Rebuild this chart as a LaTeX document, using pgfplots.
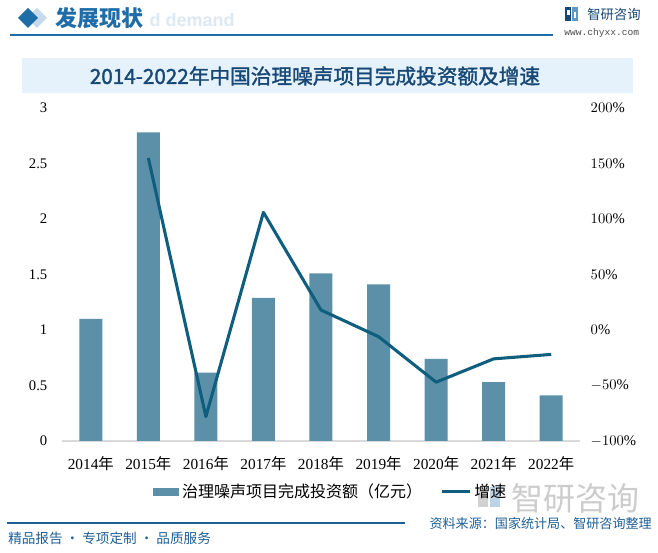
\documentclass[border=0pt]{standalone}
\usepackage{pgfplots}
\pgfplotsset{compat=1.18}
\usepackage{fontspec}
\setmainfont{Liberation Serif}
\newfontfamily\cjk{Noto Sans CJK SC}
\newfontfamily\cjkfb[FakeBold=1.6]{Noto Sans CJK SC}
\newfontfamily\lsans{Liberation Sans}
\newfontfamily\lmono{Liberation Mono}
\definecolor{barc}{RGB}{91,144,168}
\definecolor{linec}{RGB}{16,94,126}
\definecolor{hdr}{RGB}{30,108,168}
\definecolor{band}{RGB}{229,242,251}
\definecolor{ttl}{RGB}{24,72,118}
\definecolor{foot}{RGB}{30,95,150}
\definecolor{axgray}{RGB}{217,217,217}
\pgfplotstableread{
x val
0 1.10
1 2.78
2 0.615
3 1.29
4 1.51
5 1.41
6 0.74
7 0.53
8 0.41
}\invest
\pgfplotstableread{
x g
1 155
2 -78
3 106
4 18
5 -6
6 -47
7 -26
8 -22
}\growth
\begin{document}
\begin{tikzpicture}[x=0.75pt,y=0.75pt]
\useasboundingbox (0,0) rectangle (658,553);
\fill[white] (0,0) rectangle (658,553);
\coordinate (AX) at (62,112);
% header
\fill[hdr!25] (27,535)--(37,545)--(47,535)--(37,525)--cycle;
\fill[hdr] (18,535)--(28,545)--(38,535)--(28,525)--cycle;
\node[anchor=east,text=hdr!15,font=\lsans\bfseries\fontsize{13.5pt}{14pt}\selectfont,inner sep=0] at (235,533) {d demand};
\node[anchor=west,text=hdr,font=\cjk\bfseries\fontsize{16.5pt}{18pt}\selectfont,inner sep=0] at (55,535) {发展现状};
\draw[hdr,line width=1.2pt] (10,518) -- (553,518);
% logo
\fill[ttl] (565,532) rectangle (571,546);
\fill[hdr!70] (572,532) rectangle (578,546);
\fill[white] (567,538) rectangle (570,543);
\fill[white] (574,535) rectangle (576,541);
\node[anchor=west,text=ttl,font=\cjk\fontsize{10pt}{11pt}\selectfont,inner sep=0] at (587,539) {智研咨询};
\node[anchor=west,text=black!70,font=\lmono\fontsize{7.2pt}{8pt}\selectfont,inner sep=0] at (564,520) {www.chyxx.com};
% title band
\fill[band] (22,460) rectangle (633,495);
\node[text=ttl,font=\cjkfb\fontsize{15.5pt}{17pt}\selectfont,inner sep=0] at (315,477) {2014-2022年中国治理噪声项目完成投资额及增速};
% watermark bottom right
\fill[black!18] (478,46) rectangle (488,66);
\fill[hdr!30] (490,46) rectangle (500,66);
\node[anchor=west,text=black!20,font=\cjk\fontsize{24pt}{26pt}\selectfont,inner sep=0] at (511,55) {智研咨询};
% footer
\draw[foot,line width=0.9pt] (7,30) -- (405,30);
\node[anchor=east,text=foot,font=\cjk\fontsize{9.8pt}{11pt}\selectfont,inner sep=0] at (652,29) {资料来源：国家统计局、智研咨询整理};
\node[anchor=west,text=foot,font=\cjk\fontsize{10.2pt}{11pt}\selectfont,inner sep=0] at (8,15) {精品报告 · 专项定制 · 品质服务};
% bar axis
\begin{axis}[
  at={(AX)}, anchor=south west,
  scale only axis, width=388.5pt, height=249.75pt,
  xmin=-0.5, xmax=8.5, ymin=0, ymax=3,
  axis x line*=bottom, axis y line*=left,
  axis line style={-},
  x axis line style={draw=axgray,line width=0.8pt},
  y axis line style={draw=none},
  xtick={0,...,8},
  xticklabels={2014{\cjk 年},2015{\cjk 年},2016{\cjk 年},2017{\cjk 年},2018{\cjk 年},2019{\cjk 年},2020{\cjk 年},2021{\cjk 年},2022{\cjk 年}},
  xtick style={draw=none},
  extra x ticks={-0.5,0.5,...,8.5},
  extra x tick labels={},
  extra x tick style={tick align=outside, major tick length=4pt, tick style={draw=axgray,line width=0.8pt}},
  ytick={0,0.5,...,3},
  yticklabels={0,0.5,1,1.5,2,2.5,3},
  ytick style={draw=none},
  yticklabel style={font=\fontsize{11pt}{12pt}\selectfont, xshift=-7.5pt},
  xticklabel style={font=\fontsize{11.5pt}{12pt}\selectfont, yshift=-8pt},
  legend style={at={(0.176,-0.153)}, anchor=west, draw=none, fill=none, legend columns=2,
    font=\cjk\fontsize{12pt}{13pt}\selectfont, inner sep=0pt,
    /tikz/every even column/.append style={column sep=12pt}},
  legend cell align=left,
]
\addplot[ybar, bar width=17.25pt, fill=barc, draw=none,
  legend image code/.code={\fill[barc] (0pt,-3pt) rectangle (19.5pt,3pt);}] table[x=x,y=val] {\invest};
\addlegendentry{治理噪声项目完成投资额（亿元）}
\addlegendimage{line legend, linec, line width=2.3pt,
  legend image code/.code={\draw[linec,line width=2.3pt] (0pt,0pt) -- (21pt,0pt);}}
\addlegendentry{增速}
\end{axis}
% growth axis
\begin{axis}[
  at={(AX)}, anchor=south west,
  scale only axis, width=388.5pt, height=249.75pt,
  xmin=-0.5, xmax=8.5, ymin=-100, ymax=200,
  axis y line*=right, hide x axis,
  axis line style={-},
  y axis line style={draw=none},
  ytick={-100,-50,...,200},
  yticklabel={\pgfmathprintnumber{\tick}\%},
  ytick style={draw=none},
  yticklabel style={font=\fontsize{11pt}{12pt}\selectfont, anchor=west, xshift=4.5pt},
]
\addplot[linec, line width=2.3pt, no markers, line join=round] table[x=x,y=g] {\growth};
\end{axis}
\end{tikzpicture}
\end{document}
